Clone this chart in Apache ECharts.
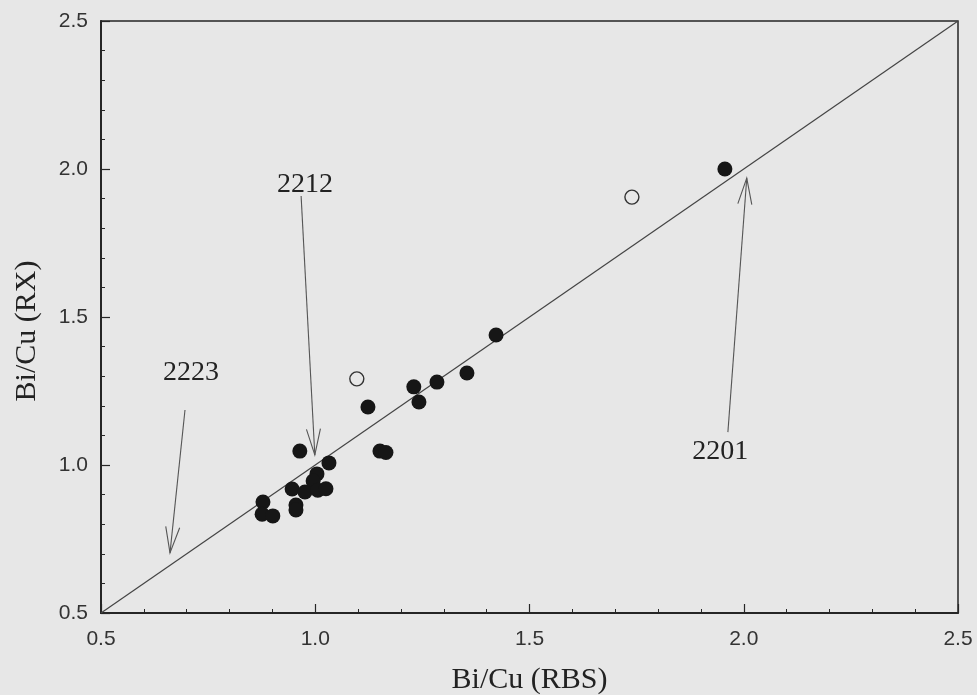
<!DOCTYPE html>
<html>
<head>
<meta charset="utf-8">
<script src="https://cdn.jsdelivr.net/npm/echarts@6/dist/echarts.min.js"></script>
<style>
  html, body { margin: 0; padding: 0; background: #e7e7e7; }
  #chart { width: 977px; height: 695px; }
</style>
</head>
<body>
<div id="chart"></div>
<script>
// Bi/Cu ratio measured by X-ray (RX) against Rutherford backscattering (RBS)
const filledPoints = [
  [1.956, 2.000], [1.422, 1.439], [1.354, 1.311], [1.284, 1.280],
  [1.230, 1.264], [1.242, 1.213], [1.123, 1.196], [1.151, 1.047],
  [1.165, 1.042], [1.032, 1.007], [0.964, 1.047], [1.004, 0.970],
  [0.995, 0.946], [0.946, 0.919], [0.976, 0.909], [1.006, 0.915],
  [1.025, 0.920], [0.878, 0.875], [0.876, 0.834], [0.901, 0.828],
  [0.955, 0.865], [0.955, 0.848]
];
const openPoints = [[1.739, 1.905], [1.097, 1.291]];
// y = x reference line
const parity = [[0.5, 0.5], [2.5, 2.5]];

// phase annotations: text, label centre, arrow tail, arrow tip (data units)
const annoText = ['2223', '2212', '2201'];
const annoLabelAt = [[0.710, 1.312], [0.976, 1.946], [1.945, 1.044]];
const arrowFrom = [[0.696, 1.186], [0.967, 1.909], [1.963, 1.111]];
const arrowTo = [[0.661, 0.703], [0.999, 1.034], [2.007, 1.969]];

const annoData = annoText.map((t, i) => [
  arrowFrom[i][0], arrowFrom[i][1], arrowTo[i][0], arrowTo[i][1],
  annoLabelAt[i][0], annoLabelAt[i][1], t
]);

const ink = '#262626';

const chart = echarts.init(document.getElementById('chart'), null, { renderer: 'canvas' });

function renderArrow(params, api) {
  const a = api.coord([api.value(0), api.value(1)]);
  const b = api.coord([api.value(2), api.value(3)]);
  const c = api.coord([api.value(4), api.value(5)]);
  const text = annoData[params.dataIndex][6];
  const dx = b[0] - a[0], dy = b[1] - a[1];
  const len = Math.sqrt(dx * dx + dy * dy);
  const ux = dx / len, uy = dy / len;
  const headLen = 26, headHalf = 7;
  const bx = b[0] - ux * headLen, by = b[1] - uy * headLen;
  const px = -uy * headHalf, py = ux * headHalf;
  const lineStyle = { stroke: '#555', lineWidth: 1.1, fill: null };
  return {
    type: 'group',
    children: [
      { type: 'line', shape: { x1: a[0], y1: a[1], x2: b[0], y2: b[1] }, style: lineStyle },
      { type: 'polyline', shape: { points: [[bx + px, by + py], b, [bx - px, by - py]] }, style: lineStyle },
      {
        type: 'text',
        x: c[0], y: c[1],
        style: {
          text: text, fill: '#222',
          font: '28px "Liberation Serif", "Times New Roman", serif',
          align: 'center', verticalAlign: 'middle'
        }
      }
    ]
  };
}

const tickLabelStyle = {
  color: '#333', fontSize: 21, fontFamily: '"Liberation Sans", Arial, sans-serif'
};
const titleFont = '"Liberation Serif", "Times New Roman", serif';

function axisCommon(name, gap, labelMargin, namePadding) {
  return {
    type: 'value',
    min: 0.5, max: 2.5, interval: 0.5,
    name: name, nameLocation: 'middle', nameGap: gap,
    nameTextStyle: { color: '#222', fontSize: 30, fontFamily: titleFont, padding: namePadding },
    axisLine: { show: true, lineStyle: { color: ink, width: 2 } },
    axisTick: { show: true, inside: true, length: 9, lineStyle: { color: ink, width: 1.2 } },
    minorTick: { show: true, splitNumber: 5, length: 4, lineStyle: { color: ink, width: 1 } },
    axisLabel: Object.assign({ margin: labelMargin, formatter: v => v.toFixed(1) }, tickLabelStyle),
    splitLine: { show: false }
  };
}

chart.setOption({
  backgroundColor: '#e7e7e7',
  animation: false,
  grid: {
    left: 101, right: 19, top: 21, bottom: 82,
    containLabel: false, outerBoundsMode: 'none',
    show: true, borderColor: ink, borderWidth: 1.5, backgroundColor: 'transparent'
  },
  xAxis: axisCommon('Bi/Cu (RBS)', 52, 16, 0),
  yAxis: axisCommon('Bi/Cu (RX)', 59, 13, [0, 28, 0, 0]),
  series: [
    {
      type: 'line', data: parity, showSymbol: false, symbol: 'none',
      lineStyle: { color: '#444', width: 1.2 }, z: 2
    },
    {
      type: 'scatter', data: filledPoints, symbol: 'circle', symbolSize: 15,
      itemStyle: { color: '#161616', opacity: 1 }, z: 3
    },
    {
      type: 'scatter', data: openPoints, symbol: 'circle', symbolSize: 14,
      itemStyle: { color: '#e7e7e7', borderColor: '#333', borderWidth: 1.4, opacity: 1 }, z: 3
    },
    {
      type: 'custom', data: annoData, renderItem: renderArrow, clip: false, z: 4,
      silent: true
    }
  ]
});
</script>
</body>
</html>
